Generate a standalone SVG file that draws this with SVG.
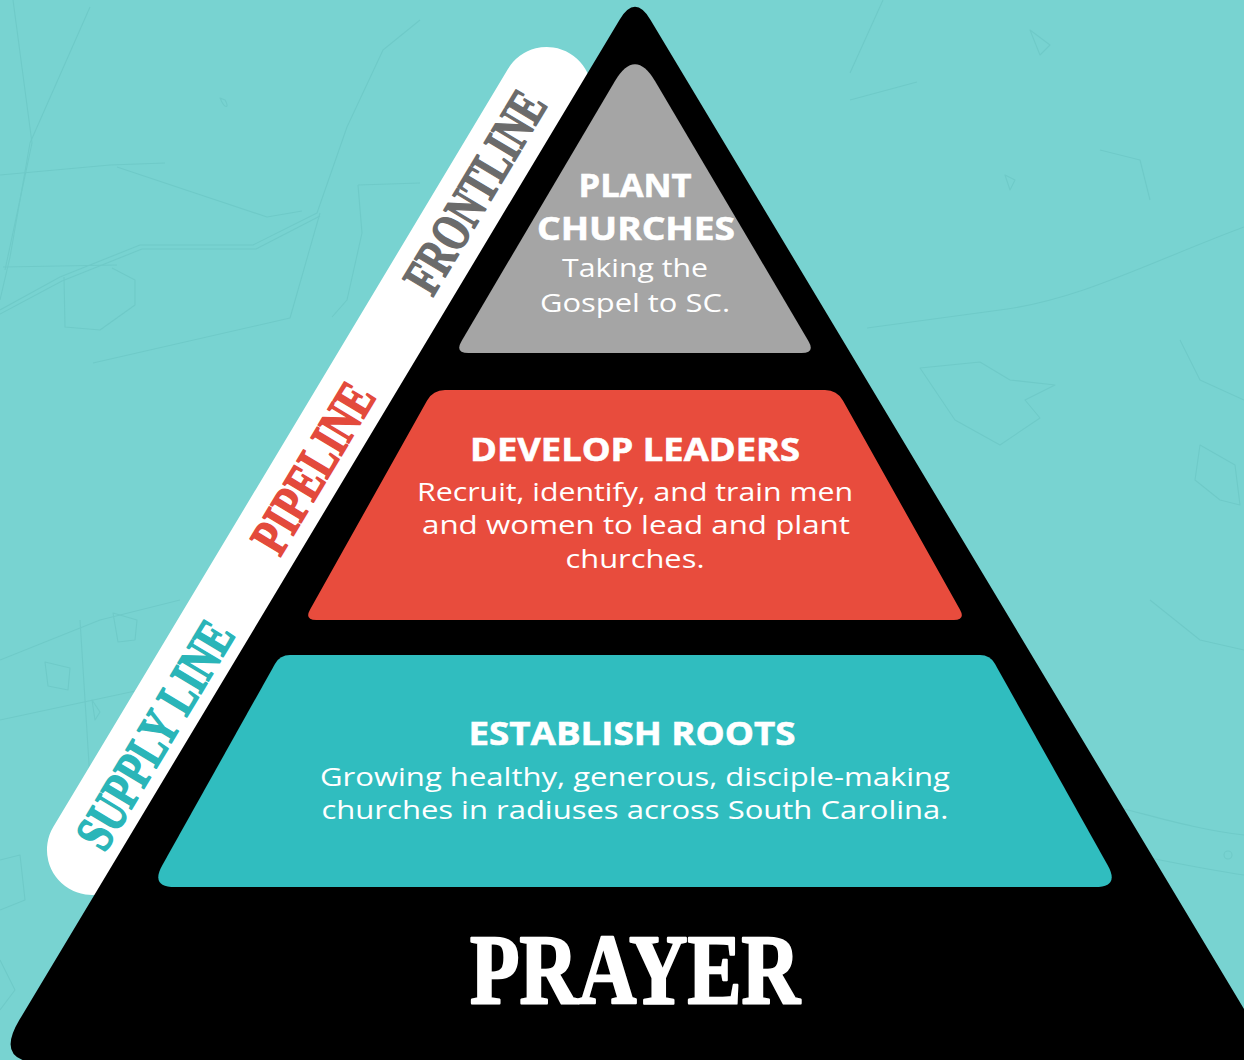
<svg xmlns="http://www.w3.org/2000/svg" width="1244" height="1060" viewBox="0 0 1244 1060">
<style>
.map{fill:none;stroke:#6fcac8;stroke-width:1.1;stroke-linejoin:round}
.band{font-family:"Liberation Serif","DejaVu Serif",serif;font-weight:bold;font-size:54px;text-anchor:middle;stroke-width:1.6;stroke-linejoin:round}
.head{font-family:"Open Sans","Liberation Sans",sans-serif;font-weight:700;font-size:33px;fill:#ffffff;text-anchor:middle;stroke:#ffffff;stroke-width:0.6}
.body{font-family:"Open Sans","Liberation Sans",sans-serif;font-weight:400;font-size:26px;fill:#ffffff;text-anchor:middle}
</style>
<rect x="0" y="0" width="1244" height="1060" fill="#78d3d1"/>
<g id="map-background">
<path class="map" d="M13,0 L32,143 L5,270"/>
<path class="map" d="M90,7 L30,143 L10,257 L0,300"/>
<path class="map" d="M0,175 L110,165 L165,163"/>
<path class="map" d="M117,167 L267,217 L302,211"/>
<path class="map" d="M0,310 L60,277 L140,245 L253,245 L317,213 L347,127 L383,50 L420,20"/>
<path class="map" d="M0,314 L62,281 L142,249 L256,249 L320,216"/>
<path class="map" d="M3,267 L117,265"/>
<path class="map" d="M93,363 L290,318 L320,213"/>
<path class="map" d="M358,185 L420,183 M358,185 L362,233 L347,300 L332,317"/>
<path class="map" d="M64,277 L65,327 L100,330 L135,305 L135,280 L112,268"/>
<path class="map" d="M220,98 C225,110 230,108 225,100 Z"/>
<path class="map" d="M883,0 L850,73"/>
<path class="map" d="M850,100 L917,82"/>
<path class="map" d="M1244,227 C1150,262 1080,300 1000,310 L867,328"/>
<path class="map" d="M920,368 L955,420 L1000,445 L1040,418 L1025,400 L1055,385 L1010,380 L980,362 Z"/>
<path class="map" d="M1005,175 L1015,180 L1010,190 Z"/>
<path class="map" d="M1200,445 L1235,465 L1240,505 L1220,500 L1195,480 Z"/>
<path class="map" d="M1030,30 L1050,45 L1040,55 Z"/>
<path class="map" d="M1120,808 C1160,818 1200,830 1244,835"/>
<path class="map" d="M1150,858 C1180,864 1210,870 1244,875"/>
<circle class="map" cx="1228" cy="855" r="4"/>
<path class="map" d="M0,660 L100,620 L180,600 M0,720 L140,690"/>
<path class="map" d="M113,613 L137,620 L135,640 L118,642 Z"/>
<path class="map" d="M45,662 L70,668 L68,690 L48,686 Z"/>
<path class="map" d="M92,700 L100,712 L95,720 Z"/>
<path class="map" d="M0,860 L20,855 L25,900 L0,910"/>
<path class="map" d="M80,620 L90,780"/>
<path class="map" d="M0,960 L15,990 L0,1010"/>
<path class="map" d="M1150,600 L1200,640 L1244,650"/>
<path class="map" d="M1244,400 L1200,380 L1180,340"/>
<path class="map" d="M1100,150 L1140,160 L1150,200"/>
</g>
<g id="side-band">
<rect x="-45" y="-431.2" width="90" height="973.9" rx="45" ry="45" fill="#ffffff" transform="translate(348,423.2) rotate(30.96)"/>
<text class="band" fill="#6b6b6b" stroke="#6b6b6b" textLength="225" lengthAdjust="spacingAndGlyphs" transform="translate(475,192) rotate(-59.04)" x="0" y="18">FRONTLINE</text>
<text class="band" fill="#e34a3c" stroke="#e34a3c" textLength="188" lengthAdjust="spacingAndGlyphs" transform="translate(313,468) rotate(-59.04)" x="0" y="18">PIPELINE</text>
<text class="band" fill="#2ab5b8" stroke="#2ab5b8" textLength="255" lengthAdjust="spacingAndGlyphs" transform="translate(155,735) rotate(-59.04)" x="0" y="18">SUPPLY LINE</text>
</g>
<g id="pyramid">
<path d="M619.6,19.7 Q635,-6 650.4,19.7 L1250.7,1020.1 Q1276.4,1063 1226.4,1063 L43.6,1063 Q-6.4,1063 19.3,1020.1 Z" fill="#000000"/>
</g>
<g id="tier-plant-churches">
<path d="M614.7,81.4 Q635,47 655.3,81.4 L808.4,340.9 Q815.5,353 801.5,353 L468.5,353 Q454.5,353 461.6,340.9 Z" fill="#a5a5a5"/>
<text class="head" x="635" y="197" textLength="113" lengthAdjust="spacingAndGlyphs">PLANT</text>
<text class="head" x="636" y="240" textLength="198" lengthAdjust="spacingAndGlyphs">CHURCHES</text>
<text class="body" x="635" y="277" textLength="146" lengthAdjust="spacingAndGlyphs">Taking the</text>
<text class="body" x="635" y="312" textLength="190" lengthAdjust="spacingAndGlyphs">Gospel to SC.</text>
</g>
<g id="tier-develop-leaders">
<path d="M445,390 L825,390 Q837,390 842.9,400.5 L959.9,609.5 Q965.8,620 953.8,620 L316.2,620 Q304.2,620 310.1,609.5 L427.1,400.5 Q433,390 445,390 Z" fill="#e84c3d"/>
<text class="head" x="635" y="461" textLength="330" lengthAdjust="spacingAndGlyphs">DEVELOP LEADERS</text>
<text class="body" x="635" y="501" textLength="436" lengthAdjust="spacingAndGlyphs">Recruit, identify, and train men</text>
<text class="body" x="636" y="534" textLength="428" lengthAdjust="spacingAndGlyphs">and women to lead and plant</text>
<text class="body" x="635" y="568" textLength="139" lengthAdjust="spacingAndGlyphs">churches.</text>
</g>
<g id="tier-establish-roots">
<path d="M290,655 L980,655 Q990,655 994.9,663.7 L1107.7,865.2 Q1119.9,887 1094.9,887 L175.1,887 Q150.1,887 162.3,865.2 L275.1,663.7 Q280,655 290,655 Z" fill="#30bdbf"/>
<text class="head" x="632" y="745" textLength="327" lengthAdjust="spacingAndGlyphs">ESTABLISH ROOTS</text>
<text class="body" x="635" y="786" textLength="630" lengthAdjust="spacingAndGlyphs">Growing healthy, generous, disciple-making</text>
<text class="body" x="635" y="819" textLength="627" lengthAdjust="spacingAndGlyphs">churches in radiuses across South Carolina.</text>
</g>
<g id="base-prayer">
<text x="635" y="1003" textLength="330" lengthAdjust="spacingAndGlyphs" style="font-family:'Liberation Serif','DejaVu Serif',serif;font-weight:bold;font-size:100px;fill:#ffffff;stroke:#ffffff;stroke-width:2.5;stroke-linejoin:round;text-anchor:middle">PRAYER</text>
</g>
</svg>
